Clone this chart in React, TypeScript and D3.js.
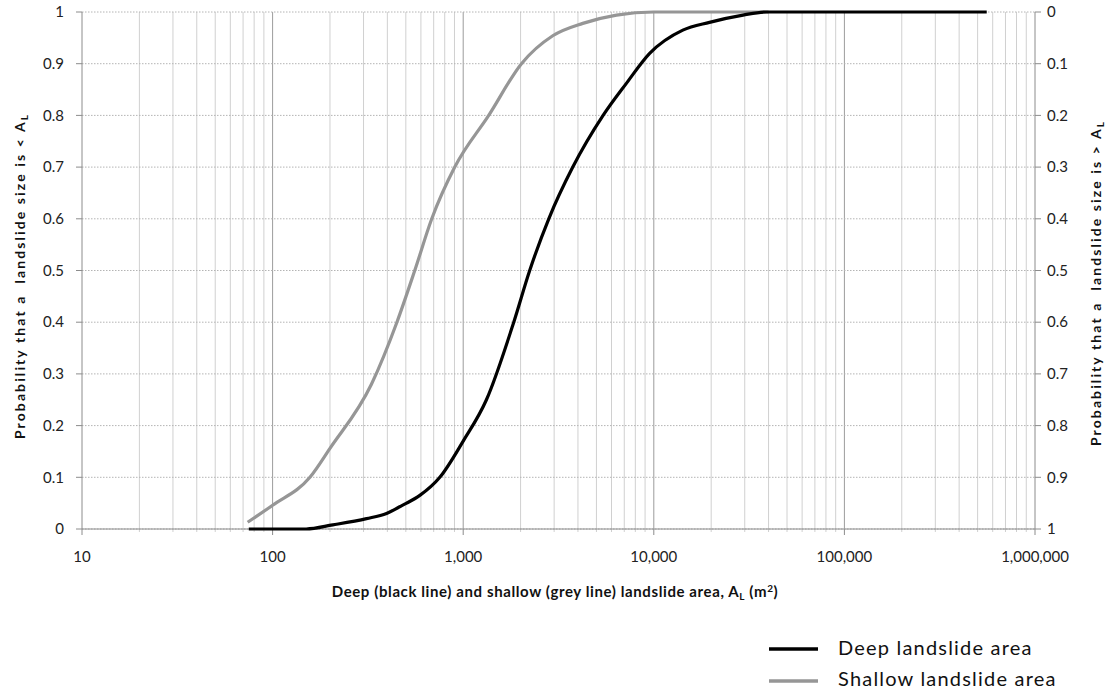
import React from "react"
import * as d3 from "d3"

// area (m2) vs cumulative probability
const deepArea = [75, 100, 150, 207, 311, 396, 464, 505, 592, 754, 1000, 1324, 1842, 2233, 2812, 3758, 5420, 7180, 9510, 14200, 19600, 29400, 38900, 100000, 558000]
const deepProb = [0, 0, 0, 0.008, 0.02, 0.03, 0.043, 0.05, 0.065, 0.1, 0.17, 0.25, 0.4, 0.5, 0.6, 0.7, 0.8, 0.862, 0.92, 0.965, 0.98, 0.994, 1, 1, 1]

const shallowArea = [74, 100, 157, 200, 330, 449, 557, 684, 903, 1361, 2022, 2950, 4240, 6370, 10000, 40000]
const shallowProb = [0.013, 0.046, 0.1, 0.156, 0.28, 0.4, 0.5, 0.6, 0.7, 0.8, 0.9, 0.954, 0.978, 0.994, 1, 1]

const xTicks = [10, 100, 1000, 10000, 100000, 1000000]
const xTickLabels = ["10", "100", "1,000", "10,000", "100,000", "1,000,000"]
const yTicks = [0, 0.1, 0.2, 0.3, 0.4, 0.5, 0.6, 0.7, 0.8, 0.9, 1]

const W = 1108, H = 690
const left = 82, right = 1035, top = 12, bottom = 529
const font = "Lato, 'Open Sans', sans-serif"

export default function App() {
    const x = d3.scaleLog().domain([10, 1000000]).range([left, right])
    const y = d3.scaleLinear().domain([0, 1]).range([bottom, top])

    const minor: number[] = []
    for (let d = 10; d < 1000000; d *= 10) {
        for (let k = 2; k <= 9; k++) minor.push(d * k)
    }

    const line = d3.line<[number, number]>()
        .x(d => x(d[0]))
        .y(d => y(d[1]))
        .curve(d3.curveMonotoneX)

    const deep = deepArea.map((a, i) => [a, deepProb[i]] as [number, number])
    const shallow = shallowArea.map((a, i) => [a, shallowProb[i]] as [number, number])

    const fmt = (v: number) => (Math.round(v * 10) / 10).toString()

    return (
        <svg width={W} height={H} style={{position: "absolute", left: 0, top: 0, background: "#fff"}} fontFamily={font}>
            {/* minor verticals */}
            {minor.map(v => (
                <g key={"m" + v}>
                    <line x1={x(v)} x2={x(v)} y1={top} y2={bottom} stroke="#d0d0d0" strokeWidth={1} />
                    <line x1={x(v)} x2={x(v)} y1={bottom} y2={bottom + 3} stroke="#d0d0d0" strokeWidth={1} />
                </g>
            ))}
            {/* major verticals */}
            {xTicks.slice(1, -1).map(v => (
                <line key={"M" + v} x1={x(v)} x2={x(v)} y1={top} y2={bottom} stroke="#9c9c9c" strokeWidth={1} />
            ))}
            {/* horizontal dotted grid */}
            {yTicks.map(v => (
                <line key={"h" + v} x1={left} x2={right} y1={y(v)} y2={y(v)} stroke="#b4b4b4" strokeWidth={1} strokeDasharray="1.5,1.5" />
            ))}

            {/* axes */}
            <line x1={left} x2={left} y1={top} y2={bottom} stroke="#8c8c8c" />
            <line x1={right} x2={right} y1={top} y2={bottom} stroke="#8c8c8c" />
            <line x1={left} x2={right} y1={bottom} y2={bottom} stroke="#8c8c8c" />
            {yTicks.map(v => (
                <g key={"yt" + v}>
                    <line x1={left - 6} x2={left} y1={y(v)} y2={y(v)} stroke="#8c8c8c" />
                    <line x1={right} x2={right + 6} y1={y(v)} y2={y(v)} stroke="#8c8c8c" />
                    <text x={64} y={y(v)} dy="0.35em" textAnchor="end" fontSize={15} fill="#222">{fmt(v)}</text>
                    <text x={1047} y={y(v)} dy="0.35em" textAnchor="start" fontSize={15} fill="#222">{fmt(1 - v)}</text>
                </g>
            ))}
            {xTicks.map((v, i) => (
                <g key={"xt" + v}>
                    <line x1={x(v)} x2={x(v)} y1={bottom} y2={bottom + 6} stroke="#8c8c8c" />
                    <text x={x(v)} y={562} textAnchor="middle" fontSize={15} fill="#222">{xTickLabels[i]}</text>
                </g>
            ))}

            {/* series */}
            <path d={line(shallow) || ""} fill="none" stroke="#969696" strokeWidth={3.2} />
            <path d={line(deep) || ""} fill="none" stroke="#000" strokeWidth={3.2} />

            {/* titles */}
            <text x={555} y={597} textAnchor="middle" fontSize={15} letterSpacing={0.6} fontWeight="bold" fill="#111">
                Deep (black line) and shallow (grey line) landslide area, A<tspan fontSize={10} dy={3}>L</tspan><tspan dy={-3}> (m</tspan><tspan fontSize={10} dy={-5}>2</tspan><tspan dy={5}>)</tspan>
            </text>
            <text transform="translate(25,276) rotate(-90)" textAnchor="middle" fontSize={14} letterSpacing={2.1} fontWeight="bold" fill="#111" style={{whiteSpace: "pre"}}>
                Probability that a  landslide size is &lt; A<tspan fontSize={10} dy={3}>L</tspan>
            </text>
            <text transform="translate(1101,283) rotate(-90)" textAnchor="middle" fontSize={14} letterSpacing={2.1} fontWeight="bold" fill="#111" style={{whiteSpace: "pre"}}>
                Probability that a  landslide size is &gt; A<tspan fontSize={10} dy={3}>L</tspan>
            </text>

            {/* legend */}
            <line x1={769} x2={818} y1={649} y2={649} stroke="#000" strokeWidth={3.5} />
            <text x={838} y={655} fontSize={20} letterSpacing={1.2} fill="#111">Deep landslide area</text>
            <line x1={769} x2={818} y1={681} y2={681} stroke="#969696" strokeWidth={3.5} />
            <text x={838} y={686} fontSize={20} letterSpacing={1.2} fill="#111">Shallow landslide area</text>
        </svg>
    )
}
